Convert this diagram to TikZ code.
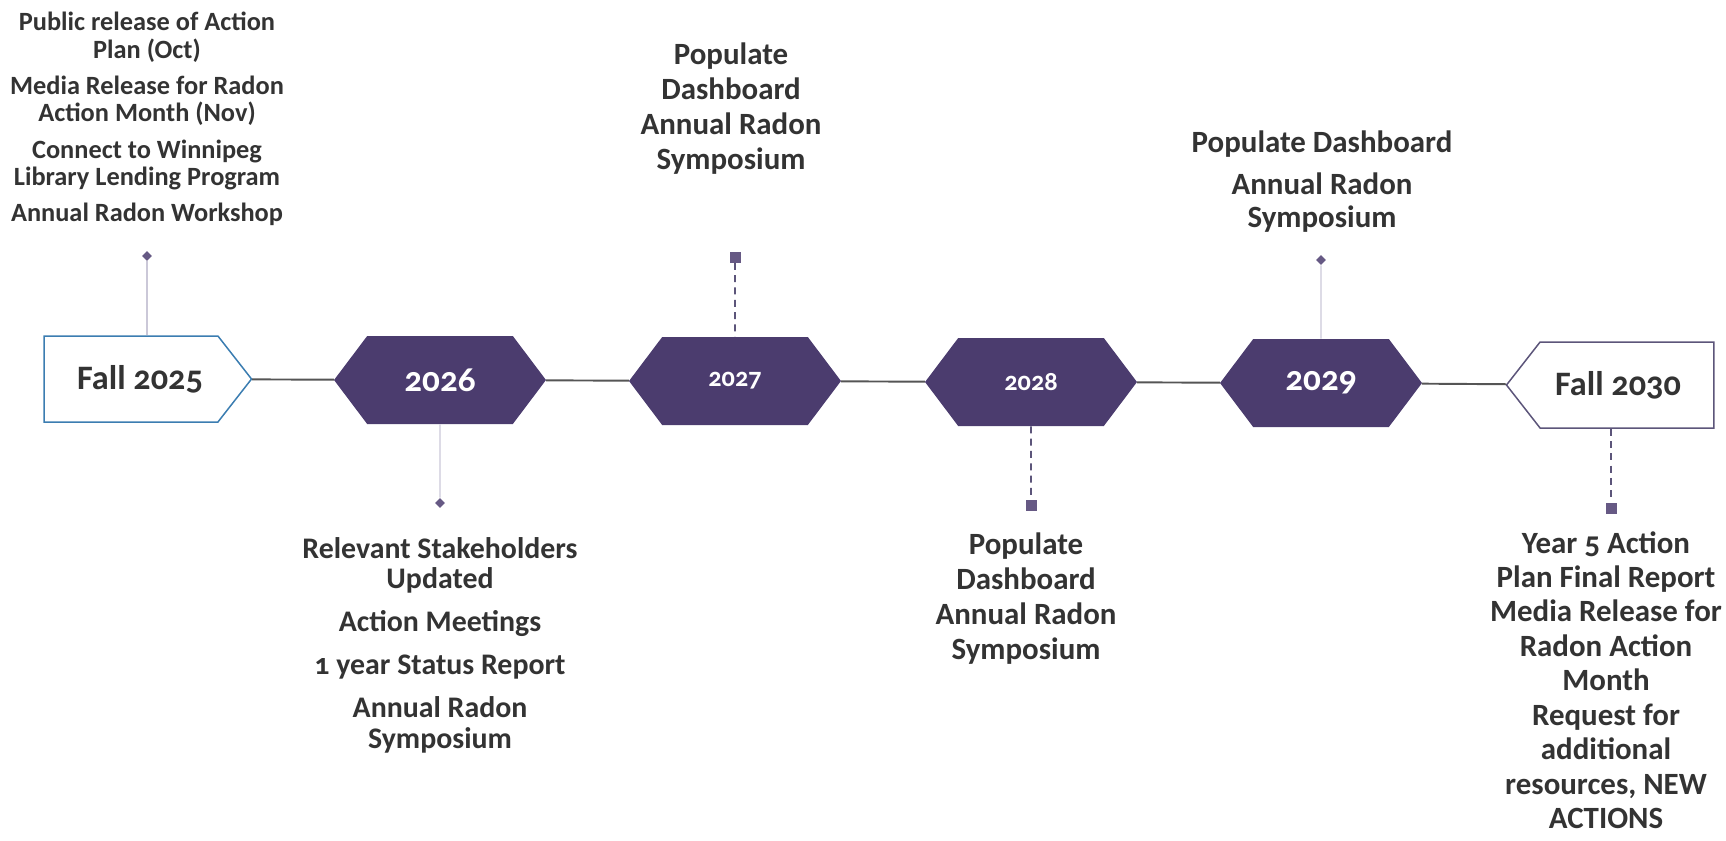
\documentclass[tikz,border=0pt]{standalone}
\usepackage{fontspec}
\setmainfont{Carlito}[Numbers=OldStyle]
\usepackage{xcolor}
\usetikzlibrary{positioning,shapes.symbols,shapes.geometric}

\definecolor{plum}{HTML}{4B3C6E}
\definecolor{inkgray}{HTML}{333333}
\definecolor{linegray}{HTML}{555555}
\definecolor{paleline}{HTML}{CBC8D8}
\definecolor{boxblue}{HTML}{3B7DB1}
\definecolor{boxplum}{HTML}{5C557A}

\begin{document}
\begin{tikzpicture}[x=0.02cm, y=-0.02cm,
  yearhex/.style={shape=signal, signal to=east and west, signal pointer angle=106, fill=plum, text=white, inner sep=0pt, minimum height=1.76cm, minimum width=4.24cm, font=\bfseries\fontsize{20}{22}\selectfont},
  smallyear/.style={font=\bfseries\fontsize{15}{17}\selectfont},
  endbox/.style={shape=signal, signal pointer angle=104, draw, line width=0.85pt, fill=white, text=inkgray, inner sep=0pt, minimum height=1.72cm, minimum width=4.15cm, font=\bfseries\fontsize{19.5}{22}\selectfont},
  dot/.style={shape=diamond, fill=plum!85, inner sep=0pt, minimum size=0.2cm},
  sq/.style={shape=rectangle, fill=plum!85, inner sep=0pt, minimum size=0.22cm},
  solidlink/.style={draw=paleline, line width=0.8pt},
  dashlink/.style={draw=boxplum, line width=0.9pt, dash pattern=on 4pt off 3pt},
  note/.style={align=center, text=inkgray, inner sep=0pt, anchor=north, font=\bfseries\fontsize{17.6}{19.5}\selectfont}]
\useasboundingbox (0,0) rectangle (1726,840);

% timeline nodes
\node[endbox, draw=boxblue, signal to=east, signal from=nowhere] (y2025) at (131,379) {\hspace{0.36cm}Fall 2025};
\node[yearhex] (y2026) at (440,380) {2026};
\node[yearhex, smallyear] (y2027) at (735,381) {2027};
\node[yearhex, smallyear] (y2028) at (1031,382) {2028};
\node[yearhex, minimum width=4.04cm] (y2029) at (1321,383) {2029};
\node[endbox, draw=boxplum, signal to=west, signal from=nowhere] (y2030) at (1627,385) {Fall 2030\kern0.36cm};

\draw[linegray, line width=1.1pt] (y2025) -- (y2026) -- (y2027) -- (y2028) -- (y2029) -- (y2030);

% markers
\node[dot] (m2025) at (147,256) {};
\node[dot] (m2026) at (440,503) {};
\node[sq] (m2027) at (735,257) {};
\node[sq] (m2028) at (1031,505) {};
\node[dot] (m2029) at (1321,260) {};
\node[sq] (m2030) at (1611,508) {};

\draw[solidlink] (m2025) -- (m2025 |- y2025.north);
\draw[solidlink] (y2026) -- (m2026);
\draw[dashlink] (m2027) -- (y2027);
\draw[dashlink] (y2028) -- (m2028);
\draw[solidlink] (m2029) -- (y2029);
\draw[dashlink] (m2030 |- y2030.south) -- (m2030);

% milestone texts
\node[note, font=\bfseries\fontsize{15}{15.6}\selectfont] (t2025) at (147,12)
  {Public release of Action\\ Plan (Oct)\\[5pt] Media Release for Radon\\ Action Month (Nov)\\[5pt] Connect to Winnipeg\\ Library Lending Program\\[5pt] Annual Radon Workshop};
\node[note, font=\bfseries\fontsize{17}{17.4}\selectfont] (t2026) at (440,537)
  {Relevant Stakeholders\\ Updated\\[7pt] Action Meetings\\[7pt] 1 year Status Report\\[7pt] Annual Radon\\ Symposium};
\node[note, font=\bfseries\fontsize{17.6}{20}\selectfont] (t2027) at (731,42)
  {Populate\\ Dashboard\\ Annual Radon\\ Symposium};
\node[note, font=\bfseries\fontsize{17.6}{20}\selectfont] (t2028) at (1026,532)
  {Populate\\ Dashboard\\ Annual Radon\\ Symposium};
\node[note, font=\bfseries\fontsize{17.6}{19}\selectfont] (t2029) at (1322,130)
  {Populate Dashboard\\[5pt] Annual Radon\\ Symposium};
\node[note, font=\bfseries\fontsize{17.6}{19.6}\selectfont] (t2030) at (1606,531)
  {Year 5 Action\\ Plan Final Report\\ Media Release for\\ Radon Action\\ Month\\ Request for\\ additional\\ resources, NEW\\ ACTIONS};
\end{tikzpicture}
\end{document}
